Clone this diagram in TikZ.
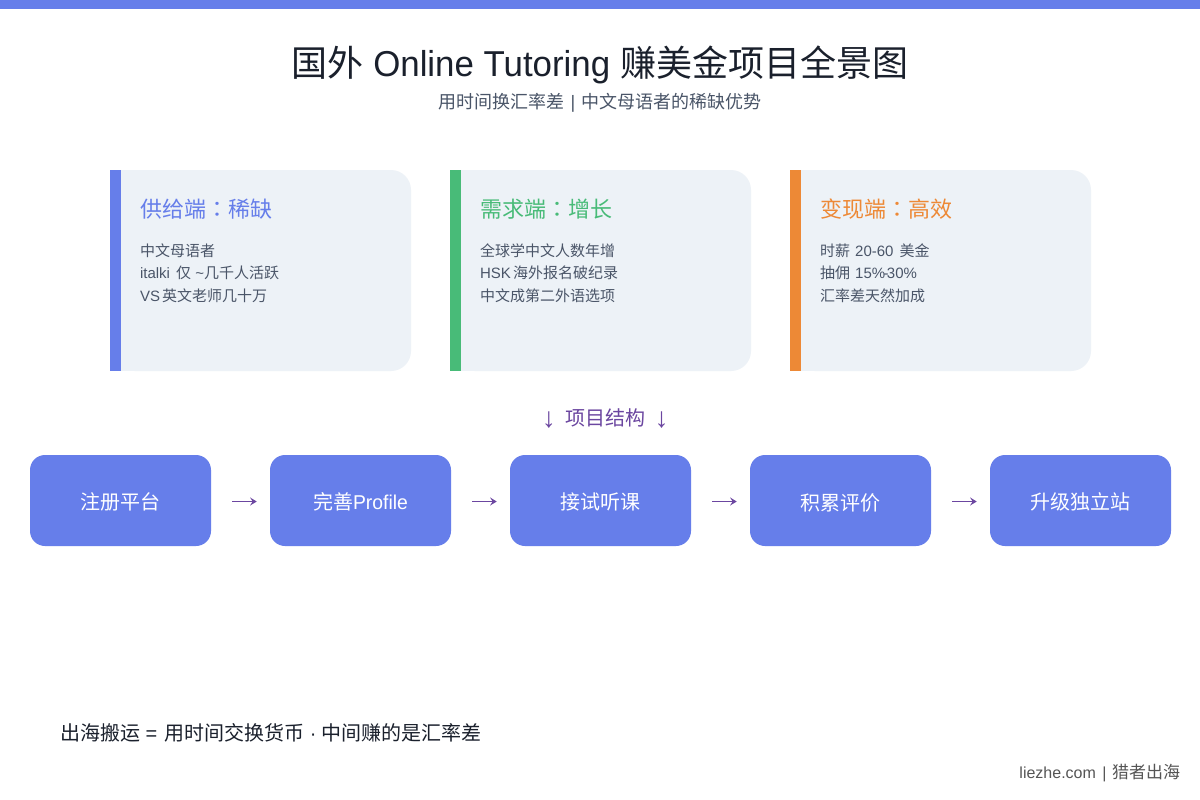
\documentclass[tikz,border=0pt]{standalone}
\usepackage{fontspec}
\setmainfont{Liberation Sans}
\newfontfamily\cn{Noto Sans CJK SC}
\newfontfamily\cntc{Noto Sans CJK TC}
\newfontfamily\latnarrow[FakeStretch=0.968]{Liberation Sans}
\definecolor{blueA}{HTML}{667EEA}
\definecolor{greenA}{HTML}{48BB78}
\definecolor{orangeA}{HTML}{ED8936}
\definecolor{cardbg}{HTML}{EDF2F7}
\definecolor{inkA}{HTML}{1A202C}
\definecolor{inkB}{HTML}{4A5568}
\definecolor{inkC}{HTML}{555555}
\definecolor{purpleA}{HTML}{6B46A0}
\newcommand{\pf}[1]{\fontsize{\dimexpr#1pt*3/4\relax}{\dimexpr#1pt*9/10\relax}\selectfont}
\usetikzlibrary{arrows.meta}
\tikzset{
 x=0.75pt,y=-0.75pt,
 txt/.style={inner sep=0pt,outer sep=0pt},
 cardtitle/.style={txt,anchor=base west,font=\cn\pf{22}},
 cardline/.style={txt,anchor=base west,font=\pf{15},text=inkB},
 stepbox/.style={fill=blueA,rounded corners=11.25pt,minimum width=135.75pt,minimum height=68.25pt,inner sep=0pt,text=white,font=\pf{20},text height=13.5pt,text depth=0pt},
 flow/.style={draw=purpleA,line width=1.1pt,-{Stealth[length=5pt,width=6pt,inset=2pt]},shorten <=15.75pt,shorten >=9.75pt,transform canvas={yshift=-0.75pt}},
}
\begin{document}
\begin{tikzpicture}
\useasboundingbox (0,0) rectangle (1200,800);
\fill[white] (0,0) rectangle (1200,800);
\fill[blueA] (0,0) rectangle (1200,9);
\node[txt,anchor=base,text=inkA,font=\pf{36}] (title) at (599.75,76) {{\cn 国外} {\latnarrow Online Tutoring} {\cn 赚美金项目全景图}};
\node[txt,anchor=base,text=inkB,font=\pf{18}] (sub) at (600,108.5) {{\cn 用时间换汇率差}\kern0.75pt{} |\kern0.75pt{} {\cn 中文母语者的稀缺优势}};
% cards
\foreach \cx/\col/\nm in {110/blueA/a,450/greenA/b,790/orangeA/c}{
 \fill[cardbg,rounded corners=15pt] (\cx+5,170) rectangle (\cx+301,371);
 \fill[cardbg] (\cx+5,170) rectangle (\cx+40,371);
 \fill[\col] (\cx,170) rectangle (\cx+11,371);
}
\node[cardtitle,text=blueA] (t1) at (140,217) {供给端{\cntc ：}稀缺};
\node[cardline] (a1) at (140,256) {\cn 中文母语者};
\node[cardline] (a2) at (140,278) {italki\kern1.5pt{} {\cn 仅} \textasciitilde{\cn 几千人活跃}};
\node[cardline] (a3) at (140,301) {VS\kern-1.5pt{} {\cn 英文老师几十万}};
\node[cardtitle,text=greenA] (t2) at (480,217) {需求端{\cntc ：}增长};
\node[cardline] (b1) at (480,256) {\cn 全球学中文人数年增};
\node[cardline] (b2) at (480,278) {HSK\kern-1.5pt{} {\cn 海外报名破纪录}};
\node[cardline] (b3) at (480,301) {\cn 中文成第二外语选项};
\node[cardtitle,text=orangeA] (t3) at (820,217) {变现端{\cntc ：}高效};
\node[cardline] (c1) at (820,256) {{\cn 时薪}\kern0.75pt{} 20-60\kern1.5pt{} {\cn 美金}};
\node[cardline] (c2) at (820,278) {{\cn 抽佣}\kern0.75pt{} 15\%\kern-1.2pt-\kern-1.2pt30\%};
\node[cardline] (c3) at (820,301) {\cn 汇率差天然加成};
% section label
\node[txt,anchor=base,text=purpleA,font=\pf{20}] (sec) at (605.25,425) {\raisebox{-1.9pt}{\pf{28}↓}\kern7.5pt{\cn 项目结构}\kern6.4pt\raisebox{-1.9pt}{\pf{28}↓}};
% steps
\node[stepbox] (s1) at (120.5,500.5) {\cn 注册平台};
\node[stepbox] (s2) at (360.5,500.5) {{\cn 完善}{\latnarrow Profile}};
\node[stepbox] (s3) at (600.5,500.5) {\cn 接试听课};
\node[stepbox,text height=15pt] (s4) at (840.5,500.5) {\cn 积累评价};
\node[stepbox] (s5) at (1080.5,500.5) {\cn 升级独立站};
\draw[flow] (s1) -- (s2);
\draw[flow] (s2) -- (s3);
\draw[flow] (s3) -- (s4);
\draw[flow] (s4) -- (s5);
% footer
\node[txt,anchor=base west,text=inkA,font=\pf{20}] (foot) at (60,740) {{\cn 出海搬运} =\kern1.5pt{} {\cn 用时间交换货币}\kern-0.4pt{} ·\kern-0.4pt{} {\cn 中间赚的是汇率差}};
\node[txt,anchor=base east,text=inkC,font=\pf{16}] (brand) at (1180,778) {liezhe.com\kern1.5pt{} |\kern0.75pt{} {\pf{17}\cn 猎者出海}};
\end{tikzpicture}
\end{document}
